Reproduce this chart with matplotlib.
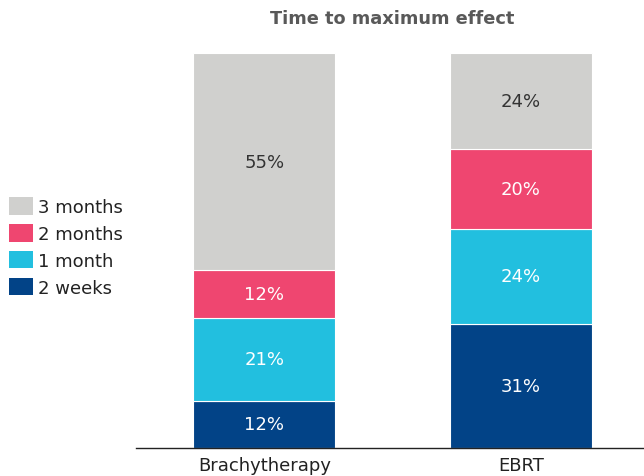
import numpy as np
import matplotlib.pyplot as plt
from matplotlib.patches import Patch

# data
CATEGORIES = ["Brachytherapy", "EBRT"]
SERIES = ["2 weeks", "1 month", "2 months", "3 months"]
VALUES_BRACHY = [12, 21, 12, 55]
VALUES_EBRT = [31, 24, 20, 24]
COLORS = ["#024387", "#22BFDF", "#EF4670", "#D0D0CE"]
TEXT_COLORS = ["white", "white", "white", "#333333"]

plt.rcParams["font.family"] = ["DejaVu Sans"]

fig = plt.figure(figsize=(6.44, 4.77), dpi=100)
ax = fig.add_axes([0.2112, 0.0587, 0.7888, 0.8281])

values = np.array([VALUES_BRACHY, VALUES_EBRT], dtype=float).T
# 100% stacked bars
shares = values / values.sum(axis=0) * 100
x = np.arange(len(CATEGORIES))
bottom = np.zeros(len(CATEGORIES))
for i, name in enumerate(SERIES):
    ax.bar(x, shares[i], 0.553, bottom=bottom, color=COLORS[i],
           edgecolor="white", linewidth=0.8, label=name)
    for j in range(len(CATEGORIES)):
        ax.text(x[j], bottom[j] + shares[i, j] / 2, f"{int(values[i, j])}%",
                ha="center", va="center", fontsize=13, color=TEXT_COLORS[i])
    bottom += shares[i]

ax.set_xlim(-0.5, 1.48)
ax.set_ylim(0, 100)
ax.set_xticks(x)
ax.set_xticklabels(CATEGORIES, fontsize=13, color="#222222")
ax.tick_params(axis="x", length=0, pad=6)
ax.set_yticks([])
for side in ["top", "right", "left"]:
    ax.spines[side].set_visible(False)
ax.spines["bottom"].set_color("#222222")
ax.spines["bottom"].set_linewidth(1.0)

fig.text(0.609, 0.96, "Time to maximum effect", ha="center", va="center",
         fontsize=12.8, fontweight="bold", color="#595959")

handles = [Patch(facecolor=COLORS[i], edgecolor="none", label=SERIES[i])
           for i in reversed(range(len(SERIES)))]
fig.legend(handles=handles, loc="center left", bbox_to_anchor=(-0.005, 0.48),
           frameon=False, fontsize=13, handlelength=1.33, handleheight=1.1,
           handletextpad=0.28, labelspacing=0.45, labelcolor="#222222",
           borderaxespad=0.3)

fig.savefig("out.png", dpi=100)
